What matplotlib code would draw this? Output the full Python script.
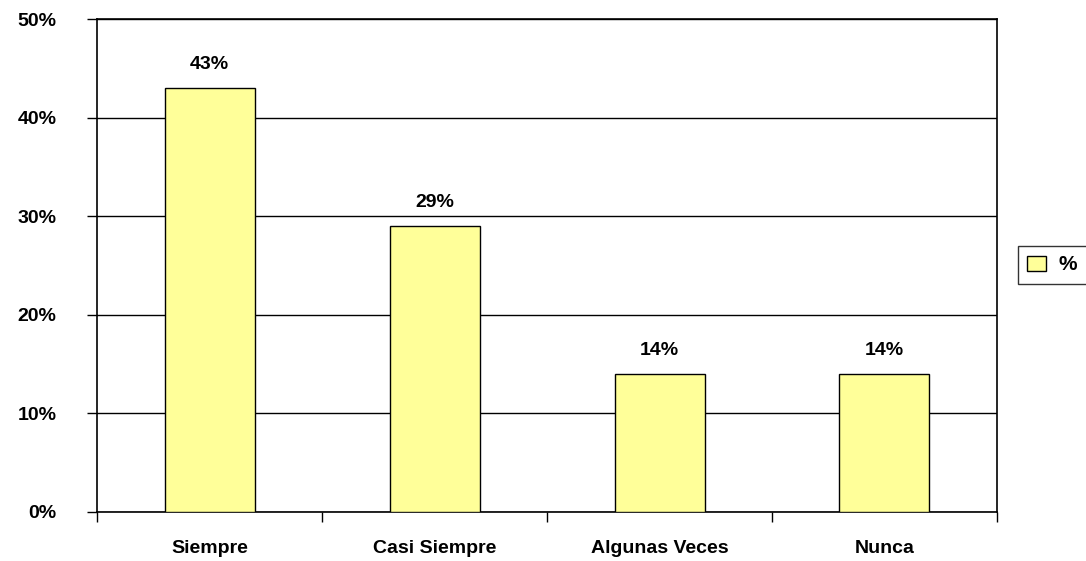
import matplotlib.pyplot as plt
from matplotlib.ticker import FuncFormatter

categorias = ['Siempre', 'Casi Siempre', 'Algunas Veces', 'Nunca']
valores = [43, 29, 14, 14]
etiquetas = ['43%', '29%', '14%', '14%']

plt.rcParams['font.family'] = ['Liberation Sans', 'DejaVu Sans']
plt.rcParams['font.weight'] = 'bold'

fig = plt.figure(figsize=(10.86, 5.61), dpi=100)
ax = fig.add_axes([97 / 1086, 1 - 512 / 561, 900 / 1086, 493 / 561])

x = range(len(categorias))
barras = ax.bar(x, valores, width=0.4, color='#ffff99', edgecolor='black',
                linewidth=1, label='%', zorder=3)
for xi, v, t in zip(x, valores, etiquetas):
    ax.text(xi, v + 1.5, t, ha='center', va='bottom', fontsize=14,
            fontweight='bold')

ax.set_xlim(-0.5, len(categorias) - 0.5)
ax.set_ylim(0, 50)
ax.set_yticks(range(0, 51, 10))
ax.yaxis.set_major_formatter(FuncFormatter(lambda v, p: '%d%%' % v))
ax.set_xticks(x)
ax.set_xticklabels(categorias, fontsize=14, fontweight='bold')
ax.set_xticks([i - 0.5 for i in range(len(categorias) + 1)], minor=True)
ax.tick_params(axis='x', which='major', length=0, pad=20)
ax.tick_params(axis='x', which='minor', length=7, width=1, direction='out')
ax.tick_params(axis='y', length=7, width=1, direction='out', labelsize=14,
               pad=22)
for lab in ax.get_yticklabels():
    lab.set_fontweight('bold')
ax.grid(axis='y', color='black', linewidth=1, zorder=0)
for s in ax.spines.values():
    s.set_linewidth(1.2)

fig.legend(handles=[barras], labels=['%'], loc='center left',
           bbox_to_anchor=(1018 / 1086, 1 - 265 / 561), frameon=True,
           fancybox=False, edgecolor='black', fontsize=15, handlelength=0.9,
           handleheight=0.7, handletextpad=0.6, borderpad=0.45,
           borderaxespad=0)

fig.savefig('out.png', dpi=100)
